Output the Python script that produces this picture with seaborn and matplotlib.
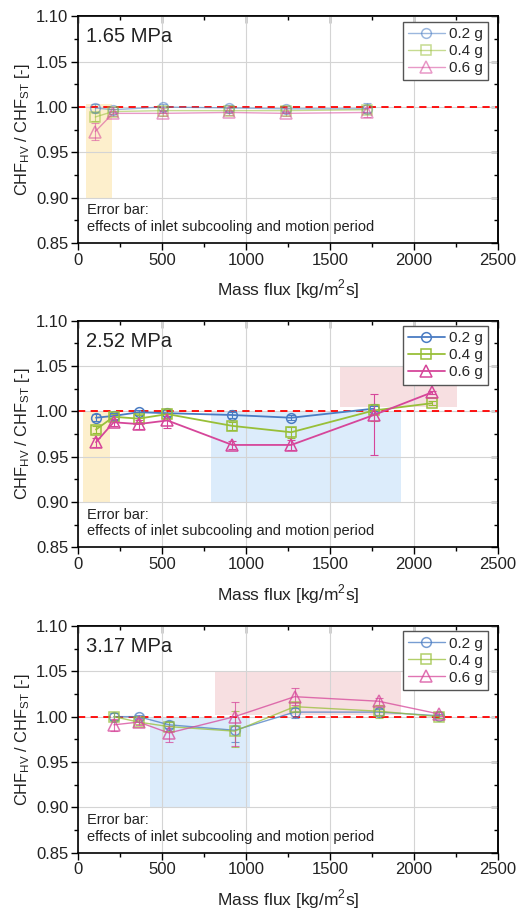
import matplotlib
matplotlib.use("Agg")
import matplotlib.pyplot as plt
import seaborn as sns

# series labels / styling keys
labels = ["0.2 g", "0.4 g", "0.6 g"]
markers = ["o", "s", "^"]
colors = ["#4a7cc3", "#98bf38", "#d6469a"]

# 1.65 MPa
x_165 = [103, 208, 506, 897, 1240, 1722]
y_165 = {
    "0.2 g": [0.999, 0.997, 1.000, 0.999, 0.998, 0.998],
    "0.4 g": [0.989, 0.995, 0.996, 0.996, 0.996, 0.997],
    "0.6 g": [0.973, 0.993, 0.993, 0.994, 0.993, 0.994],
}
elo_165 = {
    "0.2 g": [0.004, 0.003, 0.003, 0.003, 0.003, 0.004],
    "0.4 g": [0.004, 0.003, 0.003, 0.003, 0.003, 0.004],
    "0.6 g": [0.009, 0.003, 0.003, 0.003, 0.003, 0.005],
}
ehi_165 = {
    "0.2 g": [0.004, 0.003, 0.003, 0.003, 0.003, 0.006],
    "0.4 g": [0.004, 0.003, 0.003, 0.003, 0.003, 0.005],
    "0.6 g": [0.009, 0.003, 0.003, 0.003, 0.003, 0.005],
}

# 2.52 MPa
x_252 = [107, 212, 361, 532, 919, 1270, 1762, 2109]
y_252 = {
    "0.2 g": [0.993, 0.995, 0.999, 0.998, 0.996, 0.993, 1.003],
    "0.4 g": [0.980, 0.994, 0.992, 0.997, 0.984, 0.977, 1.001, 1.009],
    "0.6 g": [0.966, 0.988, 0.986, 0.990, 0.963, 0.963, 0.996, 1.021],
}
elo_252 = {
    "0.2 g": [0.004, 0.003, 0.003, 0.003, 0.003, 0.003, 0.003],
    "0.4 g": [0.004, 0.003, 0.004, 0.004, 0.004, 0.006, 0.012, 0.002],
    "0.6 g": [0.005, 0.004, 0.005, 0.008, 0.004, 0.006, 0.044, 0.002],
}
ehi_252 = {
    "0.2 g": [0.004, 0.003, 0.003, 0.003, 0.003, 0.003, 0.003],
    "0.4 g": [0.004, 0.003, 0.004, 0.004, 0.004, 0.006, 0.007, 0.002],
    "0.6 g": [0.005, 0.004, 0.005, 0.007, 0.004, 0.006, 0.023, 0.002],
}

# 3.17 MPa
x_317 = [214, 361, 542, 933, 1290, 1790, 2149]
y_317 = {
    "0.2 g": [1.000, 1.000, 0.991, 0.985, 1.005, 1.005, 1.001],
    "0.4 g": [1.000, 0.994, 0.989, 0.984, 1.011, 1.006, 1.000],
    "0.6 g": [0.991, 0.994, 0.982, 1.000, 1.022, 1.017, 1.003],
}
elo_317 = {
    "0.2 g": [0.004, 0.002, 0.004, 0.013, 0.006, 0.003, 0.002],
    "0.4 g": [0.004, 0.002, 0.005, 0.017, 0.006, 0.007, 0.002],
    "0.6 g": [0.007, 0.003, 0.010, 0.032, 0.009, 0.004, 0.002],
}
ehi_317 = {
    "0.2 g": [0.004, 0.002, 0.004, 0.005, 0.004, 0.003, 0.002],
    "0.4 g": [0.004, 0.002, 0.005, 0.022, 0.005, 0.004, 0.002],
    "0.6 g": [0.006, 0.003, 0.008, 0.016, 0.010, 0.004, 0.002],
}

pressures = ["1.65 MPa", "2.52 MPa", "3.17 MPa"]

sns.set_theme(style="ticks")
plt.rcParams["font.family"] = ["Liberation Sans", "DejaVu Sans"]

fig = plt.figure(figsize=(5.18, 9.14), dpi=100)

orange, blue, pink = "#fdefcc", "#dcecfb", "#f7dfe1"
shades = [
    [(46, 200, 0.90, 1.003, orange)],
    [(30, 188, 0.90, 1.0, orange), (790, 1921, 0.90, 1.0, blue), (1562, 2258, 1.005, 1.049, pink)],
    [(427, 1022, 0.90, 0.999, blue), (813, 1921, 1.002, 1.049, pink)],
]
panels = [
    (x_165, y_165, elo_165, ehi_165, 0.55, 1.0),
    (x_252, y_252, elo_252, ehi_252, 1.0, 1.3),
    (x_317, y_317, elo_317, ehi_317, 0.75, 1.0),
]
bottoms = [0.734, 0.401, 0.067]
xmaj = [0, 500, 1000, 1500, 2000, 2500]
xmin = [250, 750, 1250, 1750, 2250]
ymaj = [0.85, 0.90, 0.95, 1.00, 1.05, 1.10]
ymin = [0.875, 0.925, 0.975, 1.025, 1.075]

for i, (xs, ys, elo, ehi, alpha, lw) in enumerate(panels):
    ax = fig.add_axes([0.1506, bottoms[i], 0.8104, 0.2482])
    for x0, x1, y0, y1, c in shades[i]:
        ax.fill_between([x0, x1], y0, y1, color=c, lw=0, zorder=0.5)
    ax.axhline(1.0, color="red", ls=(0, (4, 3)), lw=1.3, zorder=2.5)
    for lab, m, c in zip(labels, markers, colors):
        yv = ys[lab]
        xv = xs[:len(yv)]
        ax.errorbar(xv, yv, yerr=[elo[lab], ehi[lab]], fmt="none", ecolor=c,
                    elinewidth=0.8, capsize=3, capthick=0.8, alpha=alpha, zorder=2)
        sns.lineplot(x=xv, y=yv, ax=ax, color=c, marker=m, markersize=8.5 if m == "^" else 7,
                     mfc="none", mec=c, mew=1.1, lw=lw, alpha=alpha, label=lab,
                     sort=False, zorder=3)
    ax.set_xlim(0, 2500)
    ax.set_ylim(0.85, 1.10)
    ax.set_xticks(xmaj)
    ax.set_xticks(xmin, minor=True)
    ax.set_yticks(ymaj)
    ax.set_yticks(ymin, minor=True)
    ax.set_yticklabels([f"{v:.2f}" for v in ymaj])
    ax.grid(True, which="major", color="#d4d4d4", lw=0.8, zorder=0)
    ax.tick_params(which="major", direction="out", length=5, width=1, labelsize=12,
                   labelcolor="#222222", color="black", pad=2)
    ax.tick_params(which="minor", direction="out", length=3, width=1, color="black")
    for sp in ax.spines.values():
        sp.set_linewidth(1.2)
        sp.set_color("black")
        sp.set_zorder(5)
    top = ax.secondary_xaxis("top")
    top.set_xticks(xmaj)
    top.set_xticks(xmin, minor=True)
    top.tick_params(which="both", direction="in", labeltop=False, width=1, color="black")
    top.tick_params(which="major", length=5)
    top.tick_params(which="minor", length=3)
    right = ax.secondary_yaxis("right")
    right.set_yticks(ymaj)
    right.set_yticks(ymin, minor=True)
    right.tick_params(which="both", direction="in", labelright=False, width=1, color="black")
    right.tick_params(which="major", length=5)
    right.tick_params(which="minor", length=3)

    ax.set_xlabel("Mass flux [kg/m$^\\mathregular{2}$s]", fontsize=12.5, labelpad=7,
                  color="#222222")
    ax.set_ylabel("CHF$_\\mathregular{HV}$ / CHF$_\\mathregular{ST}$ [-]", fontsize=11.8,
                  labelpad=3, color="#222222")
    ax.text(0.02, 0.91, pressures[i], transform=ax.transAxes, fontsize=14.5,
            va="center", ha="left", color="#222222")
    ax.text(0.022, 0.04, "Error bar:\neffects of inlet subcooling and motion period",
            transform=ax.transAxes, fontsize=10.5, va="bottom", ha="left",
            color="#222222", linespacing=1.25)
    leg = ax.legend(loc="upper right", fontsize=11, frameon=True, fancybox=False,
                    framealpha=1, edgecolor="#555555", handlelength=2.4,
                    borderpad=0.35, labelspacing=0.2, handletextpad=0.3,
                    borderaxespad=0.2, bbox_to_anchor=(0.985, 0.99))
    leg.get_frame().set_linewidth(1.0)
    leg.set_zorder(6)

fig.savefig("out.png", dpi=100)
